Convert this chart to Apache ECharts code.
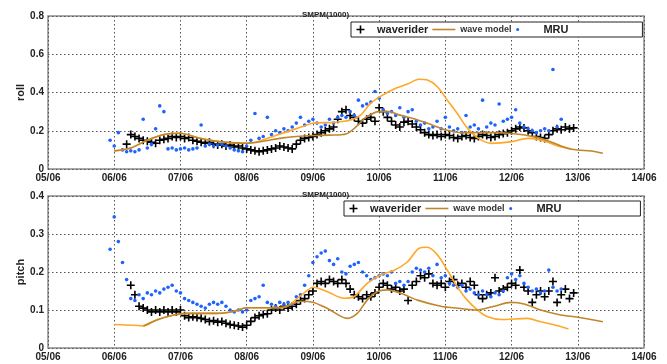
<!DOCTYPE html>
<html>
<head>
<meta charset="utf-8">
<script src="https://cdn.jsdelivr.net/npm/echarts@6/dist/echarts.min.js"></script>
<style>
html,body{margin:0;padding:0;background:#fff;}
#chart{width:667px;height:364px;}
</style>
</head>
<body>
<div id="chart"></div>
<script>
// ---------- tick labels ----------
const dayLabels = ['05/06','06/06','07/06','08/06','09/06','10/06','11/06','12/06','13/06','14/06'];
const rollTicks = [0, 0.2, 0.4, 0.6, 0.8];
const pitchTicks = [0, 0.1, 0.2, 0.3, 0.4];

// ---------- sampled series (1.5 h sampling, x in days after 05/06 00:00) ----------
const sampleStep = 1 / 16;

const rollWaveriderStart = 1.1875;
const rollWaverider = [0.13,
  0.18,0.17,0.16,0.15,0.145,0.14,0.135,0.15,
  0.155,0.16,0.17,0.165,0.17,0.16,0.165,0.15,
  0.145,0.14,0.135,0.14,0.13,0.125,0.13,0.12,
  0.125,0.115,0.12,0.11,0.105,0.1,0.095,0.09,
  0.095,0.1,0.105,0.11,0.12,0.115,0.11,0.105,
  0.13,0.15,0.16,0.165,0.17,0.18,0.19,0.2,
  0.21,0.22,0.26,0.3,0.31,0.28,0.27,0.25,
  0.24,0.26,0.27,0.25,0.32,0.3,0.27,0.25,
  0.23,0.22,0.245,0.25,0.235,0.22,0.205,0.19,
  0.18,0.175,0.18,0.17,0.18,0.175,0.165,0.16,
  0.17,0.175,0.165,0.16,0.17,0.18,0.175,0.165,
  0.17,0.18,0.185,0.19,0.2,0.21,0.22,0.215,
  0.2,0.19,0.17,0.165,0.16,0.18,0.2,0.21,
  0.205,0.22,0.21,0.215];

const rollMruStart = 0.9375;
const rollMru = [
  0.15,0.12,0.19,0.10,0.09,0.095,0.09,0.10,
  0.26,0.11,0.13,0.21,0.33,0.30,0.105,0.11,
  0.10,0.105,0.11,0.10,0.105,0.11,0.23,0.12,
  0.13,0.12,0.125,0.13,0.12,0.11,0.10,0.095,
  0.09,0.12,0.15,0.29,0.16,0.17,0.27,0.18,
  0.20,0.19,0.21,0.20,0.22,0.24,0.27,0.23,
  0.25,0.26,0.24,0.22,0.23,0.26,0.24,0.27,
  0.28,0.27,0.30,0.28,0.36,0.33,0.34,0.35,
  0.405,0.37,0.31,0.29,0.30,0.28,0.32,0.27,
  0.30,0.31,0.25,0.23,0.24,0.21,0.22,0.25,
  0.21,0.27,0.22,0.20,0.21,0.19,0.28,0.22,
  0.23,0.21,0.36,0.22,0.24,0.23,0.34,0.25,
  0.26,0.27,0.31,0.24,0.22,0.21,0.20,0.19,
  0.20,0.21,0.20,0.52,0.22,0.26];

const pitchWaveriderStart = 1.25;
const pitchWaverider = [
  0.165,0.14,0.11,0.105,0.10,0.095,0.10,0.095,
  0.10,0.095,0.10,0.095,0.10,0.085,0.08,0.082,
  0.08,0.078,0.075,0.07,0.072,0.068,0.07,0.065,
  0.062,0.06,0.058,0.055,0.06,0.07,0.08,0.085,
  0.088,0.09,0.10,0.105,0.10,0.11,0.105,0.11,
  0.115,0.125,0.13,0.14,0.15,0.17,0.175,0.17,
  0.18,0.175,0.17,0.18,0.17,0.155,0.14,0.135,
  0.13,0.14,0.135,0.145,0.16,0.17,0.165,0.155,
  0.16,0.15,0.155,0.125,0.165,0.175,0.19,0.185,
  0.195,0.17,0.165,0.17,0.16,0.175,0.18,0.165,
  0.17,0.16,0.175,0.165,0.14,0.13,0.14,0.145,
  0.185,0.15,0.155,0.16,0.17,0.165,0.205,0.16,
  0.15,0.12,0.14,0.15,0.135,0.15,0.175,0.12,
  0.14,0.155,0.13,0.145];

const pitchMruStart = 0.9375;
const pitchMru = [
  0.26,0.345,0.28,0.225,0.18,0.13,0.125,0.14,
  0.13,0.145,0.14,0.15,0.145,0.155,0.16,0.165,
  0.15,0.145,0.13,0.125,0.12,0.115,0.11,0.105,
  0.115,0.12,0.115,0.12,0.11,0.10,0.095,0.10,
  0.095,0.10,0.125,0.13,0.135,0.165,0.12,0.115,
  0.11,0.12,0.115,0.12,0.115,0.135,0.14,0.165,
  0.19,0.225,0.24,0.25,0.255,0.23,0.22,0.235,
  0.20,0.195,0.215,0.22,0.225,0.20,0.19,0.18,
  0.185,0.19,0.195,0.19,0.20,0.17,0.175,0.165,
  0.175,0.20,0.21,0.205,0.20,0.21,0.19,0.22,
  0.185,0.19,0.17,0.165,0.16,0.165,0.15,0.155,
  0.145,0.14,0.15,0.14,0.135,0.145,0.14,0.15,
  0.185,0.195,0.18,0.19,0.17,0.16,0.15,0.155,
  0.145,0.15,0.205,0.16,0.15,0.155];

// ---------- model curves ----------
const rollModelDays = [1.0,1.25,1.5,1.75,2.0,2.25,2.5,2.75,3.0,3.25,3.5,3.75,4.0,4.25,4.5,4.65,4.8,5.0,5.15,5.3,5.55,5.8,6.0,6.25,6.5,6.75,7.0,7.2,7.45,7.65,7.85,8.0,8.2,8.38];
const rollModel = [0.095,0.11,0.15,0.18,0.187,0.165,0.148,0.138,0.135,0.145,0.16,0.17,0.175,0.177,0.183,0.22,0.27,0.30,0.30,0.283,0.26,0.23,0.205,0.19,0.19,0.19,0.186,0.178,0.16,0.134,0.108,0.099,0.094,0.082];

const rollModel2Days = [1.0,1.25,1.5,1.75,2.0,2.25,2.5,2.75,3.0,3.16,3.46,3.81,4.0,4.32,4.57,4.72,4.87,5.02,5.22,5.43,5.6,5.73,5.88,6.03,6.18,6.33,6.5,6.7,7.0,7.24,7.4,7.55,7.7,7.9];
const rollModel2 = [0.095,0.11,0.15,0.18,0.187,0.165,0.148,0.138,0.135,0.143,0.178,0.218,0.239,0.244,0.256,0.282,0.343,0.38,0.417,0.444,0.469,0.465,0.43,0.36,0.29,0.215,0.16,0.134,0.143,0.16,0.155,0.14,0.12,0.104];

const pitchModelDays = [1.44,1.64,1.9,2.1,2.55,2.8,3.0,3.3,3.56,3.81,4.01,4.22,4.52,4.67,4.82,4.97,5.12,5.33,5.58,5.93,6.23,6.48,6.74,6.99,7.19,7.44,7.74,8.0,8.38];
const pitchModel = [0.058,0.074,0.087,0.091,0.091,0.096,0.106,0.106,0.107,0.123,0.12,0.104,0.078,0.091,0.126,0.148,0.153,0.144,0.126,0.11,0.104,0.1,0.11,0.12,0.116,0.1,0.087,0.081,0.069];

const pitchModel2Days = [1.0,1.29,1.44,1.64,1.9,2.1,2.55,2.8,3.0,3.3,3.56,3.81,4.01,4.22,4.47,4.62,4.82,5.02,5.22,5.43,5.6,5.73,5.88,6.03,6.18,6.33,6.5,6.64,6.84,7.24,7.44,7.64,7.86];
const pitchModel2 = [0.062,0.06,0.058,0.074,0.087,0.091,0.091,0.096,0.106,0.106,0.107,0.137,0.16,0.148,0.131,0.135,0.17,0.192,0.204,0.227,0.262,0.265,0.245,0.205,0.161,0.126,0.098,0.082,0.075,0.078,0.069,0.061,0.05];

// ---------- helpers ----------
function sampled(start, vals) { return vals.map((v, i) => [start + i * sampleStep, v]); }
function paired(days, vals) { return vals.map((v, i) => [days[i], v]); }

const FONT = "'Liberation Sans', Arial, sans-serif";
const plusPath = 'path://M4,0h2v4h4v2h-4v4h-2v-4h-4v-2h4z';
const dotPath = 'path://M0,0M60,20M6,6A4,4,0,1,1,5.99,6Z';
const linePath = 'path://M0,0M23,8M0,3.2h23v1.6h-23z';
const BROWN = '#c0862c';
const ORANGE = '#ffa726';
const BLUE = '#1f62ff';

function xAxis(gi) {
  return {
    type: 'value', gridIndex: gi, min: 0, max: 9, interval: 1,
    axisLine: { show: false }, axisTick: { show: false },
    axisLabel: { formatter: v => dayLabels[Math.round(v)], color: '#222', fontSize: 10, fontWeight: 'bold', fontFamily: FONT, margin: 4 },
    splitLine: { show: true, lineStyle: { color: '#555', type: [1.5, 2.5], width: 1 } }
  };
}
function yAxis(gi, name, ticks) {
  return {
    type: 'value', gridIndex: gi, min: ticks[0], max: ticks[ticks.length - 1], interval: ticks[1] - ticks[0],
    name: name, nameLocation: 'middle', nameGap: 22, nameMoveOverlap: false,
    nameTextStyle: { color: '#222', fontSize: 11, fontWeight: 'bold', fontFamily: FONT },
    axisLine: { show: false }, axisTick: { show: false },
    axisLabel: { formatter: v => (Math.abs(v) < 1e-9 ? '0' : v.toFixed(1)), color: '#222', fontSize: 10, fontWeight: 'bold', fontFamily: FONT, margin: 4 },
    splitLine: { show: true, lineStyle: { color: '#555', type: [1.5, 2.5], width: 1 } }
  };
}
function legend(left, top, padRight) {
  return {
    left: left, top: top, orient: 'horizontal',
    backgroundColor: '#fff', borderColor: '#222', borderWidth: 1, borderRadius: 0,
    padding: [2, padRight, 2, 5.5], itemGap: 4, itemWidth: 23, itemHeight: 8,
    selectedMode: false,
    textStyle: { fontFamily: FONT, fontWeight: 'bold', color: '#222', fontSize: 11 },
    data: [
      { name: 'waverider', icon: plusPath, itemStyle: { color: '#000', opacity: 1 } },
      { name: 'wave model', icon: linePath, itemStyle: { color: BROWN, opacity: 1 }, textStyle: { fontSize: 9, color: '#333', fontWeight: 'bold' } },
      { name: 'MRU', icon: dotPath, itemStyle: { color: BLUE, opacity: 1 } }
    ]
  };
}
function scatter(name, gi, data, isPlus) {
  return {
    type: 'scatter', name: name, xAxisIndex: gi, yAxisIndex: gi, data: data,
    symbol: isPlus ? plusPath : 'circle', symbolSize: isPlus ? 8 : 3.6,
    itemStyle: { color: isPlus ? '#000' : BLUE, opacity: 1 }, silent: true
  };
}
function line(name, gi, data, color) {
  return {
    type: 'line', name: name, xAxisIndex: gi, yAxisIndex: gi, data: data,
    symbol: 'none', smooth: 0.3, lineStyle: { color: color, width: 1.6 }, itemStyle: { color: color }, silent: true
  };
}

const chart = echarts.init(document.getElementById('chart'), null, { renderer: 'canvas' });
chart.setOption({
  animation: false,
  backgroundColor: '#fff',
  title: [
    { text: 'SMPM(1000)', left: 297, top: 6, textStyle: { fontSize: 8, fontWeight: 'bold', color: '#222', fontFamily: FONT } },
    { text: 'SMPM(1000)', left: 297, top: 186, textStyle: { fontSize: 8, fontWeight: 'bold', color: '#222', fontFamily: FONT } }
  ],
  legend: [legend(351, 22, 74), legend(344, 201, 79)],
  grid: [
    { left: 48, right: 23, top: 16, height: 153, show: true, borderColor: '#8a8a8a', borderWidth: 1.5, backgroundColor: 'transparent' },
    { left: 48, right: 23, top: 196, height: 152, show: true, borderColor: '#8a8a8a', borderWidth: 1.5, backgroundColor: 'transparent' }
  ],
  xAxis: [xAxis(0), xAxis(1)],
  yAxis: [yAxis(0, 'roll', rollTicks), yAxis(1, 'pitch', pitchTicks)],
  series: [
    scatter('waverider', 0, sampled(rollWaveriderStart, rollWaverider), true),
    line('wave model run 2', 0, paired(rollModel2Days, rollModel2), ORANGE),
    line('wave model', 0, paired(rollModelDays, rollModel), BROWN),
    scatter('MRU', 0, sampled(rollMruStart, rollMru), false),
    scatter('waverider', 1, sampled(pitchWaveriderStart, pitchWaverider), true),
    line('wave model run 2', 1, paired(pitchModel2Days, pitchModel2), ORANGE),
    line('wave model', 1, paired(pitchModelDays, pitchModel), BROWN),
    scatter('MRU', 1, sampled(pitchMruStart, pitchMru), false)
  ]
});
</script>
</body>
</html>
